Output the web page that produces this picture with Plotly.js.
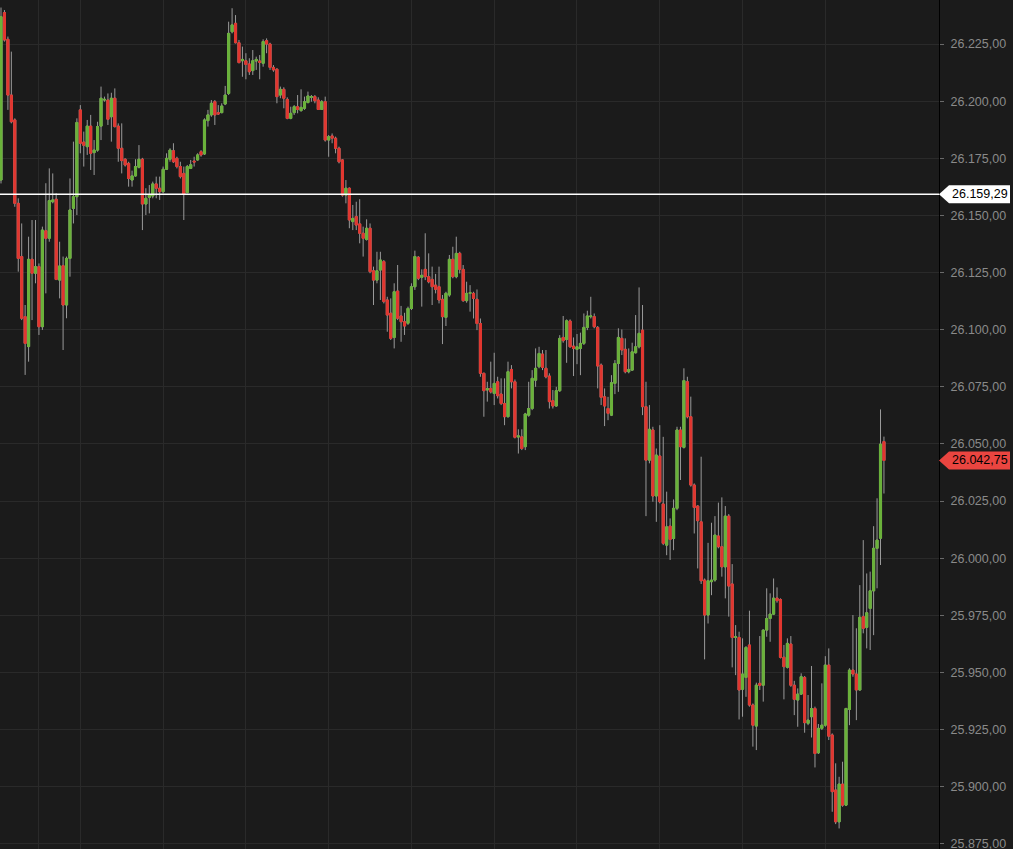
<!DOCTYPE html>
<html>
<head>
<meta charset="utf-8">
<script src="https://cdn.plot.ly/plotly-3.0.1.min.js"></script>
<style>
  html, body { margin: 0; padding: 0; background: #1b1b1b; }
  #chart { width: 1013px; height: 849px; }
</style>
</head>
<body>
<div id="chart"></div>
<script>
(function () {
  'use strict';

  // One bar per row, oldest first.
  var opens = [
    26165.5, 26238.8, 26227.1, 26202.7, 26191.8, 26155.3, 26132.0, 26105.7, 26092.6, 26130.8,
    26124.7, 26127.6, 26101.3, 26143.3, 26140.0, 26156.0, 26157.1, 26121.7, 26128.0, 26110.8,
    26131.2, 26153.1, 26158.2, 26196.2, 26182.1, 26180.1, 26189.1, 26177.5, 26178.6, 26189.1,
    26200.5, 26200.5, 26193.2, 26201.3, 26189.1, 26179.4, 26174.6, 26172.8, 26165.5, 26167.3,
    26171.1, 26174.6, 26155.0, 26157.9, 26158.5, 26163.8, 26161.9, 26160.4, 26170.2, 26174.6,
    26178.3, 26175.0, 26171.4, 26168.4, 26160.0, 26170.6, 26173.8, 26174.3, 26177.9, 26176.9,
    26191.5, 26194.0, 26199.8, 26195.0, 26195.0, 26198.8, 26203.4, 26230.4, 26234.1, 26225.6,
    26217.7, 26217.7, 26216.3, 26213.4, 26217.6, 26217.6, 26216.6, 26226.5, 26225.0, 26214.8,
    26214.0, 26202.7, 26205.2, 26200.8, 26192.5, 26195.0, 26197.6, 26195.9, 26196.9, 26199.4,
    26201.7, 26202.0, 26200.5, 26196.4, 26199.8, 26183.0, 26184.8, 26183.8, 26179.4, 26174.3,
    26158.9, 26161.9, 26147.3, 26149.5, 26146.3, 26142.2, 26139.5, 26144.4, 26125.8, 26121.7,
    26126.1, 26129.8, 26113.0, 26107.2, 26096.6, 26116.9, 26106.0, 26103.5, 26102.8, 26109.3,
    26118.8, 26131.7, 26122.9, 26126.4, 26123.2, 26122.0, 26119.5, 26118.8, 26113.3, 26105.4,
    26115.2, 26130.8, 26123.2, 26133.4, 26126.4, 26112.7, 26115.9, 26115.9, 26113.3, 26102.7,
    26080.9, 26073.6, 26074.3, 26072.1, 26077.2, 26071.8, 26067.7, 26061.9, 26082.6, 26077.2,
    26053.0, 26053.1, 26048.8, 26062.6, 26065.5, 26077.9, 26083.8, 26089.3, 26083.1, 26079.7,
    26068.9, 26066.6, 26073.3, 26096.6, 26095.7, 26103.8, 26092.8, 26091.4, 26091.8, 26094.0,
    26101.0, 26105.7, 26105.7, 26101.0, 26084.5, 26070.6, 26065.5, 26062.6, 26076.5, 26085.2,
    26096.2, 26091.4, 26081.6, 26082.3, 26089.9, 26092.5, 26099.8, 26066.3, 26042.9, 26056.1,
    26027.2, 26044.7, 26023.7, 26005.7, 26014.0, 26008.6, 26021.8, 26056.1, 26048.5, 26077.2,
    26061.9, 26032.0, 26022.8, 26015.9, 25990.4, 25975.1, 25989.7, 25990.4, 26009.7, 26005.0,
    25996.2, 26018.4, 25988.7, 25965.3, 25965.3, 25942.6, 25947.8, 25962.0, 25935.7, 25926.5,
    25945.2, 25944.4, 25968.5, 25973.6, 25975.5, 25982.5, 25981.9, 25956.6, 25952.2, 25962.4,
    25944.4, 25937.9, 25940.5, 25947.8, 25927.7, 25930.6, 25934.2, 25914.8, 25925.5, 25926.9,
    25953.2, 25922.6, 25898.5, 25884.6, 25901.1, 25891.9, 25933.8, 25951.0, 25949.3, 25942.3,
    25974.4, 25969.7, 25978.0, 25985.7, 26004.3, 26008.7, 26051.0
  ];
  var highs = [
    26241.0, 26239.9, 26228.3, 26221.7, 26192.5, 26157.5, 26146.5, 26110.8, 26140.7, 26148.0,
    26148.0, 26129.0, 26145.1, 26164.1, 26170.6, 26168.4, 26159.7, 26138.5, 26132.0, 26132.0,
    26166.2, 26182.3, 26192.5, 26198.3, 26186.7, 26191.8, 26194.0, 26183.0, 26191.0, 26206.4,
    26202.0, 26203.4, 26203.7, 26205.6, 26190.3, 26190.3, 26175.0, 26173.5, 26169.6, 26174.6,
    26180.8, 26175.2, 26161.9, 26163.3, 26164.8, 26167.0, 26167.0, 26171.4, 26177.2, 26179.4,
    26181.6, 26175.7, 26173.5, 26171.4, 26172.1, 26174.3, 26175.7, 26177.2, 26178.6, 26192.5,
    26196.2, 26200.5, 26200.5, 26198.3, 26199.1, 26206.7, 26234.8, 26240.7, 26237.7, 26226.8,
    26223.9, 26221.0, 26218.8, 26222.4, 26219.5, 26220.2, 26227.1, 26227.5, 26225.6, 26215.8,
    26214.4, 26206.4, 26206.1, 26201.7, 26197.6, 26198.3, 26202.7, 26205.2, 26202.0, 26204.2,
    26202.7, 26202.7, 26201.7, 26200.5, 26202.0, 26185.2, 26185.9, 26184.5, 26180.1, 26174.6,
    26165.5, 26162.3, 26154.6, 26156.0, 26157.1, 26145.1, 26148.3, 26146.5, 26127.6, 26134.1,
    26134.1, 26130.5, 26114.4, 26113.7, 26120.3, 26128.3, 26110.4, 26107.4, 26110.1, 26120.3,
    26134.6, 26132.2, 26126.4, 26142.2, 26133.4, 26127.6, 26124.4, 26127.6, 26115.2, 26116.6,
    26132.7, 26136.3, 26140.7, 26134.1, 26128.3, 26121.0, 26119.5, 26116.6, 26117.6, 26104.9,
    26081.2, 26077.2, 26086.0, 26089.9, 26079.4, 26078.7, 26078.7, 26086.0, 26084.5, 26078.2,
    26056.4, 26056.4, 26063.6, 26077.2, 26082.3, 26091.8, 26092.5, 26091.1, 26091.1, 26080.9,
    26073.6, 26075.0, 26097.6, 26106.0, 26104.5, 26104.5, 26096.6, 26098.1, 26098.7, 26107.1,
    26108.3, 26114.4, 26107.1, 26101.6, 26085.2, 26074.3, 26070.6, 26080.1, 26086.7, 26100.6,
    26100.1, 26096.2, 26091.8, 26094.3, 26106.4, 26118.5, 26110.8, 26077.2, 26067.0, 26057.5,
    26048.0, 26058.2, 26053.1, 26029.1, 26017.4, 26025.7, 26057.5, 26057.5, 26083.1, 26079.4,
    26070.7, 26032.7, 26023.2, 26044.4, 25991.1, 26006.7, 26015.5, 26018.4, 26024.3, 26026.6,
    26022.8, 26019.3, 25997.4, 25970.7, 25967.8, 25964.9, 25961.5, 25977.0, 25936.4, 25945.5,
    25965.9, 25968.8, 25986.8, 25984.6, 25991.1, 25987.2, 25982.4, 25962.0, 25964.9, 25965.9,
    25946.3, 25943.0, 25949.6, 25948.4, 25940.1, 25952.8, 25935.0, 25927.4, 25945.2, 25957.1,
    25960.5, 25923.3, 25910.2, 25904.3, 25910.9, 25934.5, 25951.8, 25975.1, 25969.3, 25988.2,
    26007.9, 25993.3, 25994.1, 26014.0, 26026.2, 26065.1, 26053.2
  ];
  var lows = [
    26164.0, 26226.1, 26196.2, 26190.3, 26153.8, 26125.4, 26104.2, 26080.2, 26086.0, 26104.2,
    26120.3, 26097.7, 26099.9, 26115.9, 26138.5, 26155.3, 26121.7, 26113.7, 26091.1, 26105.0,
    26123.2, 26146.5, 26150.2, 26177.2, 26171.4, 26176.5, 26169.9, 26167.7, 26177.9, 26183.0,
    26199.8, 26189.6, 26182.3, 26188.5, 26173.5, 26168.4, 26171.4, 26162.6, 26162.6, 26167.0,
    26170.6, 26143.6, 26150.2, 26150.9, 26157.5, 26157.5, 26156.8, 26159.7, 26169.9, 26173.5,
    26173.0, 26170.6, 26166.2, 26148.0, 26159.7, 26170.3, 26171.4, 26174.0, 26175.7, 26176.5,
    26188.9, 26193.2, 26189.6, 26194.0, 26194.7, 26198.3, 26202.7, 26229.7, 26225.3, 26216.6,
    26210.7, 26209.6, 26211.5, 26211.5, 26213.7, 26209.6, 26215.1, 26221.0, 26213.7, 26212.9,
    26199.1, 26201.3, 26196.9, 26192.1, 26192.1, 26194.0, 26194.7, 26195.4, 26196.2, 26199.1,
    26199.8, 26199.1, 26196.2, 26196.2, 26182.3, 26175.7, 26181.6, 26177.2, 26172.8, 26158.2,
    26155.3, 26144.4, 26143.6, 26143.6, 26137.8, 26132.0, 26139.0, 26124.7, 26110.8, 26120.3,
    26113.0, 26111.5, 26099.1, 26095.5, 26091.8, 26104.2, 26094.7, 26097.7, 26102.1, 26108.6,
    26117.4, 26121.7, 26110.1, 26121.7, 26120.3, 26110.8, 26115.9, 26111.5, 26093.7, 26101.6,
    26114.4, 26122.5, 26122.5, 26124.6, 26112.2, 26111.8, 26107.9, 26104.9, 26099.8, 26079.4,
    26061.9, 26068.5, 26072.1, 26067.0, 26069.9, 26067.0, 26058.2, 26061.6, 26074.3, 26052.4,
    26045.8, 26047.3, 26047.3, 26061.9, 26064.8, 26075.0, 26083.1, 26082.3, 26078.7, 26065.5,
    26065.5, 26066.3, 26072.8, 26094.3, 26085.5, 26092.2, 26079.7, 26084.9, 26080.1, 26093.3,
    26099.8, 26104.9, 26100.6, 26074.3, 26067.0, 26057.8, 26060.4, 26062.2, 26071.8, 26072.8,
    26088.9, 26080.9, 26080.9, 26082.0, 26089.6, 26091.8, 26062.6, 26018.4, 26041.5, 26024.7,
    26015.9, 26024.0, 26005.7, 26001.3, 25999.2, 26003.5, 26021.0, 26034.2, 26048.0, 26061.2,
    26031.3, 26010.8, 25995.5, 25988.7, 25955.7, 25971.4, 25983.8, 25989.7, 26004.3, 25991.9,
    25982.4, 25974.4, 25952.2, 25948.8, 25929.4, 25930.6, 25939.3, 25935.0, 25917.5, 25916.0,
    25942.3, 25937.2, 25965.6, 25963.4, 25975.1, 25980.5, 25956.1, 25938.2, 25951.7, 25943.7,
    25931.3, 25926.2, 25940.1, 25923.6, 25926.9, 25921.5, 25908.4, 25914.3, 25924.8, 25926.2,
    25920.4, 25889.0, 25883.6, 25881.7, 25891.2, 25891.5, 25926.9, 25948.1, 25929.1, 25942.0,
    25967.1, 25960.5, 25959.8, 25966.3, 25986.8, 25997.0, 26028.3
  ];
  var closes = [
    26237.0, 26226.8, 26202.7, 26191.0, 26155.3, 26131.2, 26105.0, 26094.0, 26130.8, 26124.7,
    26127.6, 26101.3, 26143.6, 26140.0, 26156.5, 26156.8, 26122.0, 26127.9, 26110.8, 26131.2,
    26152.4, 26158.2, 26190.7, 26181.6, 26180.7, 26189.1, 26177.2, 26178.6, 26188.9, 26201.3,
    26200.8, 26192.1, 26201.3, 26188.9, 26179.4, 26174.0, 26172.1, 26166.2, 26167.3, 26171.4,
    26174.6, 26155.0, 26157.5, 26158.9, 26163.8, 26161.9, 26160.4, 26170.2, 26175.0, 26178.6,
    26173.5, 26171.4, 26167.0, 26159.4, 26171.4, 26172.2, 26173.4, 26176.5, 26176.5, 26191.8,
    26194.0, 26199.1, 26194.0, 26194.4, 26197.9, 26202.7, 26229.7, 26233.4, 26225.6, 26216.9,
    26218.3, 26216.1, 26212.9, 26217.7, 26218.3, 26217.0, 26226.1, 26225.0, 26214.8, 26213.7,
    26202.0, 26205.2, 26201.3, 26192.5, 26194.7, 26197.6, 26196.4, 26197.3, 26199.8, 26202.3,
    26202.0, 26200.2, 26196.4, 26199.8, 26183.0, 26184.5, 26183.8, 26179.4, 26173.5, 26158.9,
    26161.9, 26148.0, 26148.7, 26145.8, 26142.2, 26140.0, 26144.4, 26125.4, 26121.7, 26125.8,
    26130.5, 26112.3, 26106.4, 26096.2, 26116.6, 26105.0, 26103.5, 26101.6, 26109.3, 26118.8,
    26132.0, 26122.5, 26123.8, 26123.2, 26121.0, 26118.8, 26117.7, 26113.0, 26105.7, 26115.9,
    26130.8, 26123.2, 26133.4, 26126.4, 26112.7, 26115.9, 26116.2, 26113.7, 26102.7, 26080.9,
    26073.3, 26074.2, 26072.8, 26076.5, 26071.1, 26067.7, 26061.9, 26081.6, 26077.2, 26052.9,
    26053.5, 26048.0, 26063.1, 26065.5, 26078.7, 26083.1, 26089.6, 26083.5, 26079.4, 26068.5,
    26066.6, 26073.3, 26096.2, 26095.2, 26103.9, 26092.5, 26091.8, 26092.5, 26094.0, 26101.0,
    26106.0, 26106.0, 26101.3, 26084.1, 26070.4, 26066.6, 26063.4, 26076.8, 26085.2, 26096.6,
    26091.1, 26081.6, 26082.6, 26090.3, 26092.5, 26098.4, 26066.3, 26042.9, 26056.4, 26027.2,
    26045.1, 26024.7, 26006.5, 26013.7, 26008.2, 26021.8, 26056.1, 26048.8, 26077.7, 26061.9,
    26032.0, 26022.2, 26016.4, 25990.1, 25975.1, 25990.1, 25990.4, 26010.1, 26005.0, 25996.2,
    26018.4, 25987.8, 25965.3, 25965.6, 25942.3, 25949.3, 25960.9, 25935.7, 25926.9, 25944.4,
    25944.3, 25968.5, 25973.6, 25975.5, 25982.5, 25981.4, 25956.6, 25952.5, 25962.7, 25944.4,
    25938.2, 25940.5, 25948.1, 25928.0, 25929.1, 25934.2, 25914.5, 25925.5, 25926.9, 25953.2,
    25922.1, 25897.8, 25884.6, 25901.1, 25891.9, 25934.2, 25951.0, 25949.3, 25942.3, 25974.1,
    25969.3, 25976.1, 25985.7, 26004.3, 26007.9, 26049.9, 26042.75
  ];

  // Reference level drawn as the white line, and the price-axis grid.
  var refLevel = 26159.29;
  var yTickStart = 25875;
  var yTickStep = 25;
  // Vertical grid lines sit on these bar numbers.
  var gridBars = [11, 23, 47, 71, 95, 119, 143, 167, 191, 215, 239];

  var COLORS = {
    bg: '#1b1b1b',
    grid: '#2a2a2a',
    up: '#6ab23a',
    down: '#e2362f',
    wick: '#9a9a9a',
    axisText: '#8a8a8a',
    tagDown: '#ea4540'
  };

  function fmt(v) {
    var parts = v.toFixed(2).split('.');
    return parts[0].replace(/\B(?=(\d{3})+(?!\d))/g, '.') + ',' + parts[1];
  }

  var bars = opens.map(function (_, i) { return i; });
  var bodyHigh = opens.map(function (o, i) { return Math.max(o, closes[i]); });
  var bodyLow = opens.map(function (o, i) { return Math.min(o, closes[i]); });

  // wicks in gray, then coloured bodies on top
  var wickTrace = {
    type: 'candlestick',
    x: bars, open: opens, high: highs, low: lows, close: closes,
    increasing: { line: { color: COLORS.wick, width: 1 }, fillcolor: COLORS.wick },
    decreasing: { line: { color: COLORS.wick, width: 1 }, fillcolor: COLORS.wick },
    whiskerwidth: 0,
    hoverinfo: 'skip',
    showlegend: false
  };
  var bodyTrace = {
    type: 'candlestick',
    x: bars, open: opens, high: bodyHigh, low: bodyLow, close: closes,
    increasing: { line: { color: COLORS.up, width: 1 }, fillcolor: COLORS.up },
    decreasing: { line: { color: COLORS.down, width: 1 }, fillcolor: COLORS.down },
    whiskerwidth: 0,
    hoverinfo: 'skip',
    showlegend: false
  };

  var lastPrice = closes[closes.length - 1];
  var tagPath = 'M0,0 L10,9 L71,9 L71,-9 L10,-9 Z';

  function priceTag(price, fill) {
    return {
      type: 'path', path: tagPath,
      xref: 'paper', yref: 'y',
      xsizemode: 'pixel', ysizemode: 'pixel',
      xanchor: 1, yanchor: price,
      fillcolor: fill, line: { width: 0 },
      layer: 'above'
    };
  }
  function tagLabel(price) {
    return {
      xref: 'paper', yref: 'y', x: 1, y: price,
      xanchor: 'left', yanchor: 'middle', xshift: 11,
      text: fmt(price), showarrow: false,
      font: { family: 'Liberation Sans, Arial, sans-serif', size: 12.5, color: '#000000' }
    };
  }

  var layout = {
    width: 1013,
    height: 849,
    paper_bgcolor: COLORS.bg,
    plot_bgcolor: COLORS.bg,
    margin: { l: 0, r: 74, t: 0, b: 0, pad: 0 },
    separators: ',.',
    showlegend: false,
    boxgap: 0.22,
    boxgroupgap: 0.22,
    xaxis: {
      range: [-0.29, 271.96],
      rangeslider: { visible: false },
      showticklabels: false,
      ticks: '',
      tickmode: 'array',
      tickvals: gridBars,
      showgrid: true,
      gridcolor: COLORS.grid,
      gridwidth: 1,
      zeroline: false,
      showline: false,
      fixedrange: true
    },
    yaxis: {
      side: 'right',
      range: [25872.7, 26244.3],
      tick0: yTickStart,
      dtick: yTickStep,
      tickformat: ',.2f',
      showgrid: true,
      gridcolor: COLORS.grid,
      gridwidth: 1,
      zeroline: false,
      showline: true,
      linecolor: '#000000',
      linewidth: 1,
      ticks: 'outside',
      ticklen: 4,
      tickcolor: '#6a6a6a',
      ticklabelstandoff: 4,
      ticklabeloverflow: 'allow',
      tickfont: { family: 'Liberation Sans, Arial, sans-serif', size: 12.5, color: COLORS.axisText },
      fixedrange: true
    },
    shapes: [
      {
        type: 'line', xref: 'paper', yref: 'y',
        x0: 0, x1: 1, y0: refLevel, y1: refLevel,
        line: { color: '#ffffff', width: 1.5 },
        layer: 'above'
      },
      priceTag(refLevel, '#ffffff'),
      priceTag(lastPrice, COLORS.tagDown)
    ],
    annotations: [tagLabel(refLevel), tagLabel(lastPrice)]
  };

  Plotly.newPlot('chart', [wickTrace, bodyTrace], layout, { displayModeBar: false, staticPlot: true });
})();
</script>
</body>
</html>
